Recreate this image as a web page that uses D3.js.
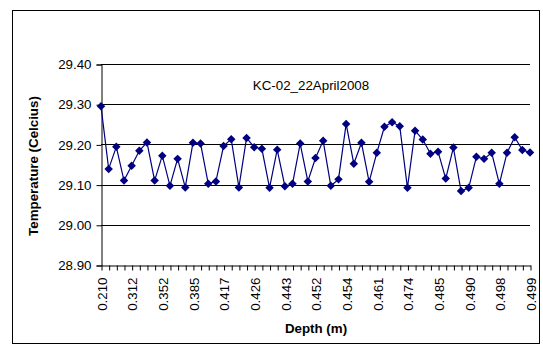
<!DOCTYPE html>
<html>
<head>
<meta charset="utf-8">
<script src="https://cdn.jsdelivr.net/npm/d3@7"></script>
<style>
  body { margin: 0; background: #fff; }
  svg { display: block; font-family: Arial, "Liberation Sans", sans-serif; }
</style>
</head>
<body>
<div id="chart"></div>
<script>
// temperature readings, one per depth step (57 samples)
const temps = [
  29.295, 29.139, 29.194, 29.110, 29.147, 29.184, 29.205, 29.110, 29.172, 29.097,
  29.164, 29.093, 29.204, 29.202, 29.102, 29.108, 29.196, 29.213, 29.093, 29.216,
  29.193, 29.189, 29.092, 29.187, 29.096, 29.102, 29.202, 29.108, 29.166, 29.209,
  29.097, 29.113, 29.251, 29.152, 29.204, 29.107, 29.179, 29.244, 29.255, 29.245,
  29.092, 29.234, 29.212, 29.177, 29.182, 29.115, 29.192, 29.084, 29.092, 29.169,
  29.164, 29.179, 29.102, 29.179, 29.218, 29.186, 29.180
];
// depth labels shown on the axis (every 4th sample)
const depthLabels = ['0.210', '0.312', '0.352', '0.385', '0.417', '0.426', '0.443', '0.452',
  '0.454', '0.461', '0.474', '0.485', '0.490', '0.498', '0.499'];
const labelStep = 4;
const yTicks = [28.90, 29.00, 29.10, 29.20, 29.30, 29.40];
const chartTitle = 'KC-02_22April2008';

const width = 543, height = 354;
const plot = {left: 101, right: 530, top: 64, bottom: 265};

const svg = d3.select('#chart').append('svg')
    .attr('width', width)
    .attr('height', height);

// outer chart frame
svg.append('rect')
    .attr('x', 12.5).attr('y', 10.5)
    .attr('width', 527).attr('height', 333)
    .attr('fill', 'none')
    .attr('stroke', '#000');

const idx = d3.range(temps.length);
const x = d3.scalePoint().domain(idx).range([plot.left, plot.right]);
const y = d3.scaleLinear().domain([28.9, 29.4]).range([plot.bottom, plot.top]);

// gridlines
svg.append('g')
    .selectAll('line')
    .data(yTicks.slice(1))
    .join('line')
    .attr('x1', plot.left).attr('x2', plot.right)
    .attr('y1', d => Math.round(y(d)) + 0.5)
    .attr('y2', d => Math.round(y(d)) + 0.5)
    .attr('stroke', '#000');

// y axis
const yAxis = svg.append('g')
    .attr('transform', `translate(${plot.left + 0.5},0.5)`)
    .call(d3.axisLeft(y).tickValues(yTicks).tickFormat(d3.format('.2f')).tickSize(5).tickPadding(5));
yAxis.select('.domain').attr('stroke', '#000');
yAxis.selectAll('.tick line').attr('stroke', '#000');
yAxis.selectAll('text').attr('font-size', '13.33px').attr('fill', '#000')
    .attr('font-family', 'Arial, "Liberation Sans", sans-serif');

// x axis
const xAxis = svg.append('g')
    .attr('transform', `translate(0.5,${plot.bottom + 0.5})`)
    .call(d3.axisBottom(x).tickSize(5).tickSizeOuter(0)
        .tickFormat(i => i % labelStep === 0 ? depthLabels[i / labelStep] : ''));
xAxis.select('.domain').attr('stroke', '#000');
xAxis.selectAll('.tick line').attr('stroke', '#000');
xAxis.selectAll('text')
    .attr('font-size', '13.33px')
    .attr('fill', '#000')
    .attr('font-family', 'Arial, "Liberation Sans", sans-serif')
    .attr('text-anchor', 'end')
    .attr('transform', 'rotate(-90)')
    .attr('x', -12)
    .attr('y', 0)
    .attr('dy', '0.36em');

// series line
const line = d3.line()
    .x(i => x(i))
    .y(i => y(temps[i]));

svg.append('path')
    .datum(idx)
    .attr('fill', 'none')
    .attr('stroke', '#000080')
    .attr('stroke-width', 1.2)
    .attr('d', line);

// diamond markers
const diamond = d3.symbol().type(d3.symbolDiamond2).size(46);
svg.append('g')
    .selectAll('path')
    .data(idx)
    .join('path')
    .attr('transform', i => `translate(${x(i)},${y(temps[i])})`)
    .attr('d', diamond)
    .attr('fill', '#000080');

// title inside plot
svg.append('text')
    .attr('x', 311).attr('y', 90)
    .attr('text-anchor', 'middle')
    .attr('font-size', '13.33px')
    .text(chartTitle);

// axis titles
svg.append('text')
    .attr('transform', 'translate(38,166) rotate(-90)')
    .attr('text-anchor', 'middle')
    .attr('font-size', '13.33px')
    .attr('font-weight', 'bold')
    .text('Temperature (Celcius)');

svg.append('text')
    .attr('x', 316).attr('y', 333)
    .attr('text-anchor', 'middle')
    .attr('font-size', '13.33px')
    .attr('font-weight', 'bold')
    .text('Depth (m)');
</script>
</body>
</html>
